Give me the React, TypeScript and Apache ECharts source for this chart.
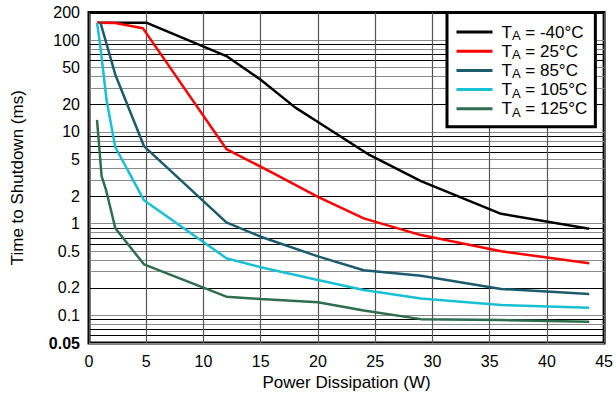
import React, { useEffect, useRef } from "react";
import * as echarts from "echarts";

const seriesNames = ["-40°C", "25°C", "85°C", "105°C", "125°C"];
const seriesColors = ["#000000", "#ff0000", "#1b5b6c", "#19bfd3", "#2e6e4e"];

const dataM40: [number, number][] = [
  [0.7, 155], [5, 155], [12, 67], [15, 37], [18, 18.5], [20, 12.8], [24.5, 5.6], [29, 2.9], [36, 1.28], [43.7, 0.88],
];
const data25: [number, number][] = [
  [0.7, 155], [2.3, 154], [4.7, 135], [12, 6.5], [16, 3.6], [20, 1.96], [24, 1.14], [29, 0.75], [36, 0.5], [43.7, 0.37],
];
const data85: [number, number][] = [
  [1, 155], [2.3, 42], [4.8, 7], [12, 1.03], [15, 0.72], [20, 0.44], [24, 0.31], [29, 0.27], [36, 0.194], [43.7, 0.171],
];
const data105: [number, number][] = [
  [0.7, 155], [0.96, 92], [1.54, 22], [2.3, 6.8], [4.8, 1.8], [12, 0.42], [15, 0.334], [20, 0.243], [24, 0.189], [29, 0.153], [36, 0.13], [43.7, 0.121],
];
const data125: [number, number][] = [
  [0.7, 13.5], [1.1, 3.3], [1.5, 2.3], [2.3, 0.89], [4.8, 0.36], [12, 0.16], [15, 0.151], [20, 0.139], [24, 0.113], [29, 0.091], [36, 0.089], [43.7, 0.085],
];
const allData = [dataM40, data25, data85, data105, data125];

const xTicks = { min: 0, max: 45, interval: 5 };
const yLabelValues = [0.05, 0.1, 0.2, 0.5, 1, 2, 5, 10, 20, 50, 100, 200];
const yGridValues = [
  0.05, 0.06, 0.07, 0.08, 0.09,
  0.1, 0.2, 0.3, 0.4, 0.5, 0.6, 0.7, 0.8, 0.9,
  1, 2, 3, 4, 5, 6, 7, 8, 9,
  10, 20, 30, 40, 50, 60, 70, 80, 90,
  100, 200,
];

const FONT = "Liberation Sans, Arial, sans-serif";

function mantissa(v: number): number {
  const e = Math.floor(Math.log10(v) + 1e-9);
  return Math.round(v / Math.pow(10, e));
}
const grayMantissa = new Set([1, 3, 4, 5, 8]);
const yGridColors = yGridValues.map((v) => (grayMantissa.has(mantissa(v)) ? "#8a8a8a" : "#000000"));

export default function App() {
  const ref = useRef<HTMLDivElement>(null);
  useEffect(() => {
    if (!ref.current) return;
    const chart = echarts.init(ref.current, undefined, { renderer: "svg" });
    chart.setOption({
      animation: false,
      backgroundColor: "#ffffff",
      textStyle: { fontFamily: FONT },
      grid: {
        left: 89,
        right: 11,
        top: 12.5,
        bottom: 53,
        show: true,
        borderColor: "#000",
        borderWidth: 3,
        backgroundColor: "transparent",
      },
      legend: {
        orient: "vertical",
        left: 447,
        top: 12.5,
        padding: [9.5, 8, 8, 9.5],
        itemGap: -0.8,
        itemWidth: 36,
        itemHeight: 3,
        icon: "rect",
        borderColor: "#000",
        borderWidth: 3,
        backgroundColor: "#ffffff",
        data: seriesNames,
        formatter: (name: string) => `{p|T}{s|A}{t| = ${name}}`,
        textStyle: {
          fontFamily: FONT,
          color: "#000",
          rich: {
            p: { fontSize: 17, lineHeight: 19, fontFamily: FONT, padding: [0, 0, 0, 4] },
            t: { fontSize: 17, lineHeight: 19, fontFamily: FONT },
            s: { fontSize: 13, lineHeight: 12, fontFamily: FONT, padding: [7, 0, 0, 0] },
          },
        },
      },
      xAxis: {
        type: "value",
        min: xTicks.min,
        max: xTicks.max,
        interval: xTicks.interval,
        name: "Power Dissipation (W)",
        nameLocation: "middle",
        nameGap: 29,
        nameTextStyle: { fontSize: 17, color: "#000", fontFamily: FONT },
        axisLine: { show: false },
        axisTick: { show: false },
        axisLabel: { fontSize: 16, color: "#000", margin: 10, fontFamily: FONT },
        splitLine: { show: true, lineStyle: { color: "#555", width: 1.2 } },
      },
      yAxis: {
        type: "log",
        logBase: 10,
        min: 0.05,
        max: 200,
        name: "Time to Shutdown (ms)",
        nameLocation: "middle",
        nameGap: 63,
        nameTextStyle: { fontSize: 17, color: "#000", fontFamily: FONT },
        axisLine: { show: false },
        axisTick: { show: false, customValues: yGridValues },
        axisLabel: {
          customValues: yLabelValues,
          fontSize: 16,
          color: "#000",
          margin: 9,
          fontFamily: FONT,
          formatter: (v: number) => {
            const s = String(parseFloat(Number(v).toPrecision(4)));
            return v < 0.06 ? `{b|${s}}` : s;
          },
          rich: { b: { fontWeight: "bold", fontSize: 16, fontFamily: FONT } },
        },
        splitLine: { show: true, lineStyle: { color: yGridColors, width: 1.2 } },
      },
      series: allData.map((d, i) => ({
        name: seriesNames[i],
        type: "line",
        data: d,
        symbol: "none",
        color: seriesColors[i],
        lineStyle: { color: seriesColors[i], width: 2.5 },
        z: 3,
      })),
    });
    return () => chart.dispose();
  }, []);
  return <div ref={ref} style={{ position: "fixed", left: 0, top: 0, width: 616, height: 396 }} />;
}
